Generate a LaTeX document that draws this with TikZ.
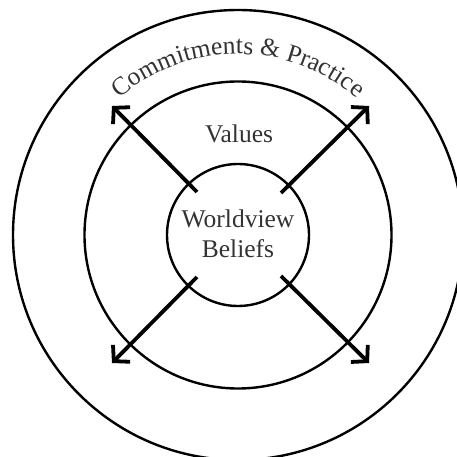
\documentclass[tikz,border=0pt]{standalone}
\usepackage{fontspec}
\setmainfont{Liberation Serif}
\usetikzlibrary{arrows.meta,decorations.text}
\definecolor{txt}{HTML}{333333}
\begin{document}
\begin{tikzpicture}[x=1pt,y=1pt,
  ring/.style={circle,draw=black,line width=2.4pt,inner sep=0pt},
  lbl/.style={text=txt,font=\fontsize{25.5}{30}\selectfont,anchor=base,inner sep=0pt},
  outarrow/.style={line width=3.8pt,-{Straight Barb[length=11pt,width=24pt,line width=3.8pt]}}]
\useasboundingbox (-238,-222) rectangle (219,235);
\clip (-238,-222) rectangle (219,235);
\node[ring,minimum size=450pt] (outer) at (0,0) {};
\node[ring,minimum size=307pt] (middle) at (0,0) {};
\node[ring,minimum size=142pt] (inner) at (0,0) {};
\node[lbl] (values) at (1,92) {Values};
\node[lbl] (world) at (0,7) {Worldview};
\node[lbl] (beliefs) at (0,-23) {Beliefs};
\path[decorate,decoration={text along path,text align=center,
  text={|\fontsize{25.5}{30}\selectfont\color{txt}|Commitments {\&} Practice}}]
  (132:181) arc[start angle=132,end angle=48,radius=181];
\coordinate (nws) at (-41,43);
\coordinate (nwe) at (-126,129);
\coordinate (nes) at (43,42);
\coordinate (nee) at (131,129);
\coordinate (sws) at (-41,-42);
\coordinate (swe) at (-126,-128);
\coordinate (ses) at (43,-41);
\coordinate (see) at (131,-128);
\draw[outarrow] (nws) -- (nwe);
\draw[outarrow] (nes) -- (nee);
\draw[outarrow] (sws) -- (swe);
\draw[outarrow] (ses) -- (see);
\end{tikzpicture}
\end{document}
